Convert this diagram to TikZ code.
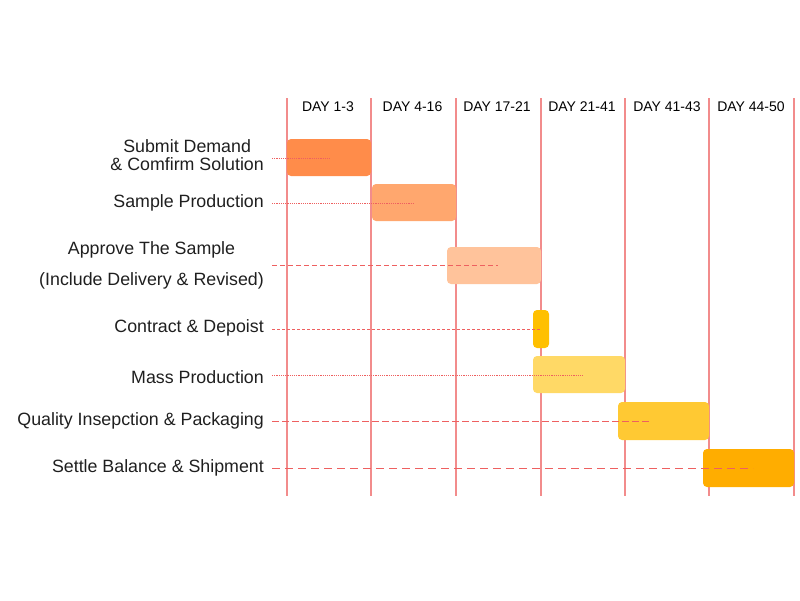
\documentclass[tikz,border=0pt]{standalone}
\usepackage{fontspec}
\setmainfont{Liberation Sans}
\definecolor{gridred}{RGB}{242,140,140}
\definecolor{rowred}{RGB}{238,96,96}
\definecolor{barA}{RGB}{255,140,74}
\definecolor{barB}{RGB}{255,167,110}
\definecolor{barC}{RGB}{255,195,155}
\definecolor{barD}{RGB}{255,192,0}
\definecolor{barE}{RGB}{255,217,102}
\definecolor{barF}{RGB}{255,201,51}
\definecolor{barG}{RGB}{255,173,0}
\tikzset{
  day line/.style={
    draw=gridred, line width=1.2pt
  },
  day head/.style={
    font=\fontsize{14}{16}\selectfont, inner sep=0pt
  },
  task label/.style={
    anchor=east, align=center, inner sep=0pt, text=black!88,
    font=\fontsize{17.8}{18}\selectfont
  },
  task bar/.style={
    rectangle, rounded corners=4pt, draw=none, inner sep=0pt
  },
  row dots/.style={
    draw=rowred, line width=1.2pt, dash pattern=on 1.2pt off 1pt
  },
  row dash/.style={
    draw=rowred, line width=1.2pt, dash pattern=on 5pt off 3pt
  },
  row short/.style={
    draw=rowred, line width=1.2pt, dash pattern=on 3pt off 2pt
  },
  row long/.style={
    draw=rowred, line width=1.2pt, dash pattern=on 7pt off 3pt
  },
  row longer/.style={
    draw=rowred, line width=1.2pt, dash pattern=on 8pt off 5pt
  }
}

\begin{document}
\begin{tikzpicture}[x=1pt,y=-1pt]
\useasboundingbox (0,0) rectangle (800,600);

% day columns
\foreach \i/\x in {0/287,1/371,2/456,3/541,4/625,5/709,6/794}{
  \coordinate (t\i) at (\x,98);
  \coordinate (u\i) at (\x,496);
  \draw[day line] (t\i) -- (u\i);
}
\node[day head] (h1) at (328,107)   {DAY 1-3};
\node[day head] (h2) at (412.5,107) {DAY 4-16};
\node[day head] (h3) at (497,107)   {DAY 17-21};
\node[day head] (h4) at (582,107)   {DAY 21-41};
\node[day head] (h5) at (667,107)   {DAY 41-43};
\node[day head] (h6) at (751,107)   {DAY 44-50};

% task bars
\node[task bar, fill=barA, minimum width=84pt, minimum height=37pt] (b1) at (329,157.5) {};
\node[task bar, fill=barB, minimum width=84pt, minimum height=37pt] (b2) at (414,202.5) {};
\node[task bar, fill=barC, minimum width=94pt, minimum height=37pt] (b3) at (494,265.5) {};
\node[task bar, fill=barD, minimum width=16pt, minimum height=38pt] (b4) at (541,329)   {};
\node[task bar, fill=barE, minimum width=92pt, minimum height=37pt] (b5) at (579,374.5) {};
\node[task bar, fill=barF, minimum width=91pt, minimum height=38pt] (b6) at (663.5,421) {};
\node[task bar, fill=barG, minimum width=91pt, minimum height=38pt] (b7) at (748.5,468) {};

% task labels
\node[task label] (l1) at (264,155)   {Submit Demand\\\& Comfirm Solution};
\node[task label] (l2) at (264,203)   {Sample Production};
\node[task label] (l3) at (264,265)   {Approve The Sample\\[13pt](Include Delivery \& Revised)};
\node[task label] (l4) at (264,328)   {Contract \& Depoist};
\node[task label] (l5) at (264,377)   {Mass Production};
\node[task label] (l6) at (264,421)   {Quality Insepction \& Packaging};
\node[task label] (l7) at (264,468)   {Settle Balance \& Shipment};

% row guides
\foreach \r/\y/\e in {1/158.5/331,2/203.5/414,3/265.5/498,4/329.5/541,5/375.5/583,6/421.5/651,7/468.5/753}{
  \coordinate (s\r) at (272,\y);
  \coordinate (e\r) at (\e,\y);
}
\draw[row dots]   (s1) -- (e1);
\draw[row dots]   (s2) -- (e2);
\draw[row dash]   (s3) -- (e3);
\draw[row short]  (s4) -- (e4);
\draw[row dots]   (s5) -- (e5);
\draw[row long]   (s6) -- (e6);
\draw[row longer] (s7) -- (e7);

\end{tikzpicture}
\end{document}
